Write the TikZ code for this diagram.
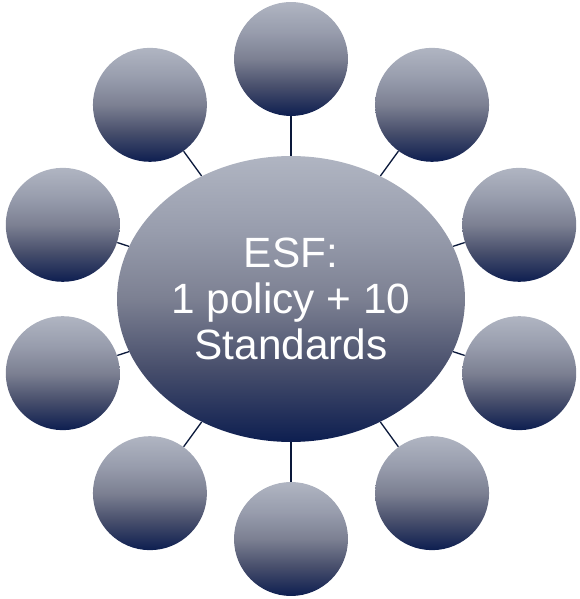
\documentclass[tikz,border=0pt]{standalone}
\usepackage{fontspec}
\setmainfont{Liberation Sans}
\usepackage{tikz}
\usetikzlibrary{shapes,positioning,calc}
\definecolor{esflight}{RGB}{176,181,194}
\definecolor{esfupper}{RGB}{152,157,173}
\definecolor{esfmid}{RGB}{124,128,146}
\definecolor{esflower}{RGB}{72,79,108}
\definecolor{esfdark}{RGB}{13,30,80}
\definecolor{esfline}{RGB}{10,24,58}
\pgfdeclareverticalshading{esfshade}{100bp}{color(0bp)=(esfdark); color(25bp)=(esfdark); color(38bp)=(esflower); color(50bp)=(esfmid); color(62bp)=(esfupper); color(75bp)=(esflight); color(100bp)=(esflight)}
\tikzstyle{standard}=[circle,minimum size=2.28cm,inner sep=0pt,shading=esfshade]
\tikzstyle{policy}=[ellipse,minimum width=6.96cm,minimum height=5.72cm,inner sep=0pt,shading=esfshade,text=white,align=center,font=\fontsize{24.1}{26}\selectfont]
\tikzstyle{link}=[esfline,line width=0.75pt]
\begin{document}
\begin{tikzpicture}[x=0.02cm,y=0.02cm]
	\useasboundingbox (0,0) rectangle (579,599);
%--------------------start object code --------------------
	\coordinate (centre) at (291,300);
	
	%Policy ellipse
	\node[policy] (esf) at (centre) {ESF:\\1 policy + 10\\Standards};
	
	%Standards round the policy
	\foreach \i in {0,...,9}
	{
		\node[standard] (std\i) at ($(centre)+(90+36*\i:240)$) {};
		\path[link] (esf) edge node{} (std\i);
	}
%-------------------------end object code-----------------------
\end{tikzpicture}
\end{document}
